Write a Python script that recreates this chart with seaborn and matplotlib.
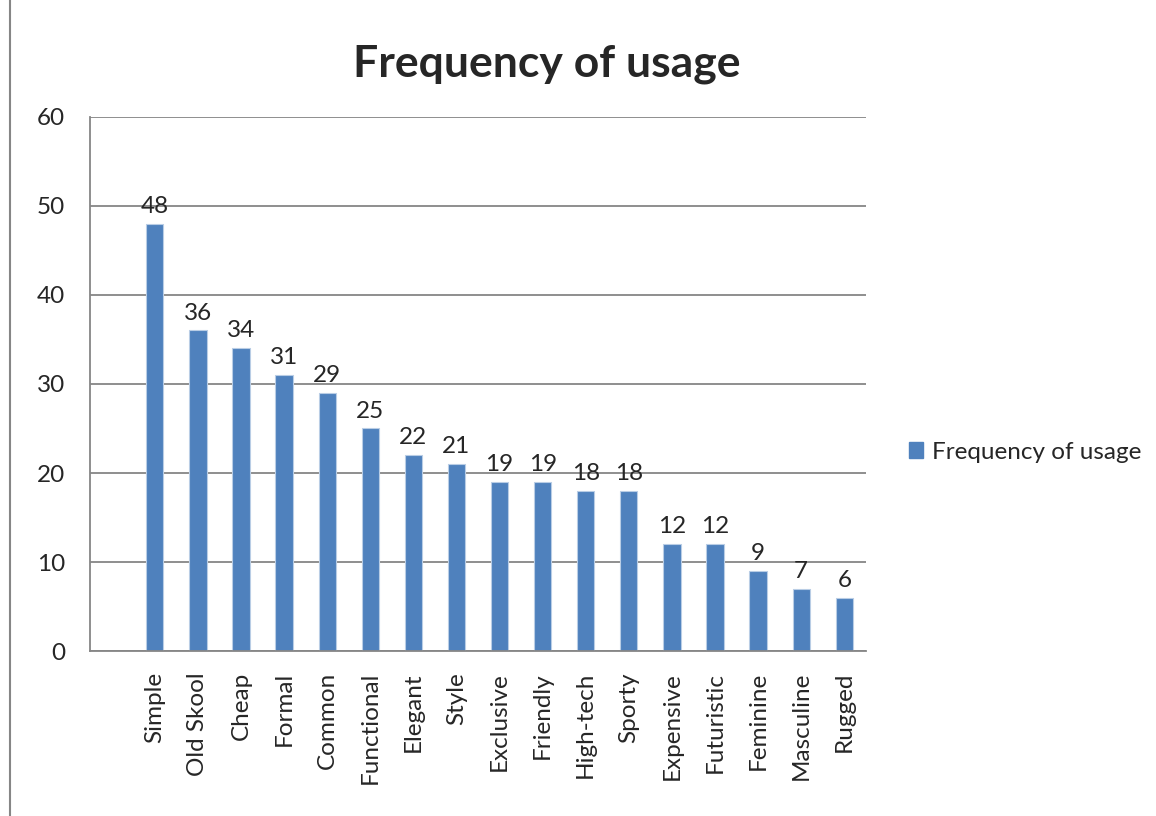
import matplotlib
matplotlib.use("Agg")
import matplotlib.pyplot as plt
from matplotlib.lines import Line2D
from matplotlib.patches import Patch
import numpy as np
import pandas as pd
import seaborn as sns

# data
words = ['Simple', 'Old Skool', 'Cheap', 'Formal', 'Common', 'Functional',
         'Elegant', 'Style', 'Exclusive', 'Friendly', 'High-tech', 'Sporty',
         'Expensive', 'Futuristic', 'Feminine', 'Masculine', 'Rugged']
counts = [48, 36, 34, 31, 29, 25, 22, 21, 19, 19, 18, 18, 12, 12, 9, 7, 6]
series_name = 'Frequency of usage'
order = [''] + words   # first slot is empty in the original

df = pd.DataFrame({'word': words, 'count': counts})

sns.set_theme(style='white')
plt.rcParams['font.family'] = ['Lato', 'DejaVu Sans']

bar_col = '#4F81BD'
grey = '#868686'
fs = 17.5

fig = plt.figure(figsize=(11.56, 8.16), dpi=100)
ax = fig.add_axes([0.078, 0.202, 0.671, 0.655])

sns.barplot(data=df, x='word', y='count', order=order, color=bar_col,
            width=0.4, saturation=1, edgecolor='#b9cde5', linewidth=0.8, ax=ax)
ax.bar_label(ax.containers[0], fmt='%d', padding=5, fontsize=fs)

ax.set_ylim(0, 60)
ax.set_yticks(range(0, 61, 10))
ax.set_xlim(-0.5, len(order) - 0.5)
ax.yaxis.grid(True, color=grey, linewidth=1.3)
ax.set_axisbelow(True)
for s in ['top', 'right']:
    ax.spines[s].set_visible(False)
for s in ['left', 'bottom']:
    ax.spines[s].set_color(grey)
    ax.spines[s].set_linewidth(1.3)

ax.set_xticks(range(len(order)))
ax.set_xticklabels(order, rotation=90, va='top', ha='center', fontsize=fs)
ax.set_xticks(np.arange(-0.5, len(order)), minor=True)
ax.tick_params(axis='x', which='major', length=0, pad=15)
ax.tick_params(axis='x', which='minor', length=8, width=1.3, color=grey, direction='out')
ax.tick_params(axis='y', length=8, width=1.3, color=grey, direction='out', labelsize=fs, pad=10)
ax.set_xlabel('')
ax.set_ylabel('')

fig.text(0.473, 0.922, series_name, ha='center', va='center',
         fontsize=32, fontweight='bold')

handle = Patch(facecolor=bar_col, edgecolor=bar_col)
fig.legend([handle], [series_name], loc='center left',
           bbox_to_anchor=(0.767, 0.446), frameon=False, fontsize=fs,
           handlelength=0.6, handleheight=0.6, handletextpad=0.35)

fig.add_artist(Line2D([0.0085, 0.0085], [0, 1], color=grey, linewidth=1.5,
                      transform=fig.transFigure))

fig.savefig('out.png', dpi=100)
